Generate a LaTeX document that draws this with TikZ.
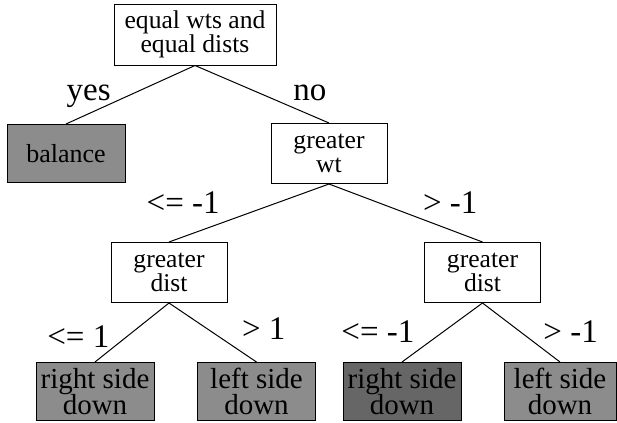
\documentclass[tikz,border=0pt]{standalone}
\usepackage{fontspec}
\setmainfont{Liberation Serif}
\newfontfamily\treefont{Liberation Serif}
\definecolor{shade}{gray}{0.55}
\definecolor{darkshade}{gray}{0.4}

\begin{document}
\begin{tikzpicture}[
    node distance=59.5pt,
    test/.style={rectangle, draw, line width=0.5pt, inner sep=0pt, align=center, font=\treefont\fontsize{12.8}{12}\selectfont, minimum width=58pt, minimum height=30pt},
    leaf/.style={test, fill=shade, font=\treefont\fontsize{14.5}{13.2}\selectfont, minimum width=59pt, minimum height=29pt},
    branch/.style={line width=0.5pt},
    answer/.style={font=\treefont\fontsize{16.5}{18}\selectfont, inner sep=0pt}
]

\useasboundingbox (0,0) rectangle (308.5pt,-211.5pt);

\node[test, minimum width=81pt, minimum height=30.5pt] (equal) at (97.5pt,-17.25pt) {equal wts and\\equal dists};
\node[leaf, font=\treefont\fontsize{13}{12}\selectfont, below of=equal, xshift=-64.5pt] (balance) {balance};
\node[test, below of=equal, xshift=67pt] (wt) {greater\\wt};
\node[test, below of=wt, xshift=-80pt] (ldist) {greater\\dist};
\node[test, below of=wt, xshift=76.75pt] (rdist) {greater\\dist};
\node[leaf, below of=ldist, xshift=-37pt] (lright) {right side\\down};
\node[leaf, below of=ldist, xshift=43.75pt] (lleft) {left side\\down};
\node[leaf, fill=darkshade, below of=rdist, xshift=-40.25pt] (rright) {right side\\down};
\node[leaf, minimum width=56pt, below of=rdist, xshift=38.75pt] (rleft) {left side\\down};

\draw[branch] (equal.south) -- node[answer, pos=0.65, anchor=base east, yshift=1.5pt] (yes) {yes} (balance.north);
\draw[branch] (equal.south) -- node[answer, pos=0.73, anchor=base west, yshift=3.7pt] (no) {no} (wt.north);
\draw[branch] (wt.south) -- node[answer, pos=0.68, anchor=base east, yshift=5pt] (wtle) {<= -1} (ldist.north);
\draw[branch] (wt.south) -- node[answer, pos=0.61, anchor=base west, yshift=3pt] (wtgt) {> -1} (rdist.north);
\draw[branch] (ldist.south) -- node[answer, pos=0.8, anchor=base east, yshift=1.5pt] (lle) {<= 1} (lright.north);
\draw[branch] (ldist.south) -- node[answer, pos=0.83, anchor=base west, yshift=6pt] (lgt) {> 1} (lleft.north);
\draw[branch] (rdist.south) -- node[answer, pos=0.84, anchor=base east, yshift=5.2pt] (rle) {<= -1} (rright.north);
\draw[branch] (rdist.south) -- node[answer, pos=0.78, anchor=base west, yshift=3.5pt] (rgt) {> -1} (rleft.north);

\end{tikzpicture}
\end{document}
